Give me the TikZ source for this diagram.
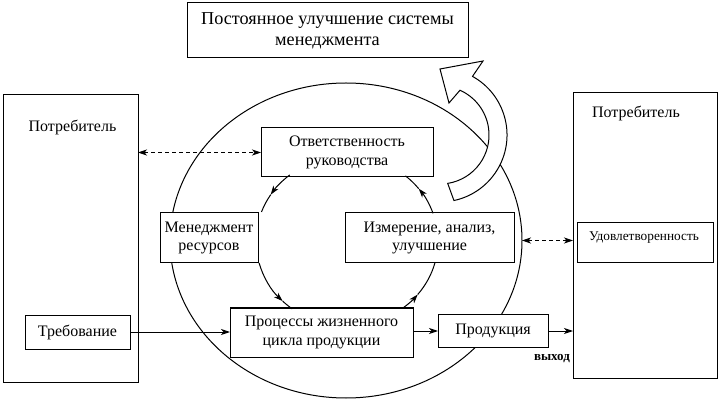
\documentclass[tikz,border=0pt]{standalone}
\usepackage{fontspec}
\setmainfont{Liberation Serif}
\usetikzlibrary{arrows.meta,shapes.geometric}
\begin{document}
\begin{tikzpicture}[x=1pt,y=1pt,
  line width=1pt,
  tip/.style={-{Stealth[length=9pt,width=6pt,inset=2.5pt]}},
  box/.style={draw,fill=white,rectangle,inner sep=0pt,outer sep=0pt,align=center,
    font=\fontsize{16}{18.5}\selectfont},
  plain/.style={inner sep=0pt,outer sep=0pt,align=center,font=\fontsize{16}{18.5}\selectfont},
  dashedarrow/.style={dash pattern=on 4pt off 3pt,{Stealth[length=9pt,width=6pt,inset=2.5pt]}-{Stealth[length=9pt,width=6pt,inset=2.5pt]}}
]
\useasboundingbox (0,0) rectangle (720,-403);

% outer cycle
\node[draw,ellipse,minimum width=352pt,minimum height=315pt,inner sep=0pt,outer sep=0pt] (ell) at (346,-240.5) {};

% big hollow arrow
\draw[fill=white] (440,-69) -- (483,-61) -- (472.5,-76.4)
  arc[start angle=61,end angle=-78,radius=67] -- (447.7,-183.4)
  arc[start angle=-81,end angle=66,radius=49] -- (449,-103) -- cycle;

% customer boxes
\node[box,minimum width=135pt,minimum height=287pt] (lcons) at (70.5,-238.5) {};
\node[plain] (lconst) at (72.5,-127) {Потребитель};
\node[box,minimum width=105pt,minimum height=34pt] (req) at (77.5,-332) {Требование};

\node[box,minimum width=144pt,minimum height=285pt] (rcons) at (645,-235.5) {};
\node[plain] (rconst) at (636,-113) {Потребитель};
\node[box,minimum width=136pt,minimum height=40pt] (sat) at (645,-242.5) {};
\node[plain,font=\fontsize{13.3}{15}\selectfont] (satt) at (644,-237.5) {Удовлетворенность};

% top box
\node[box,minimum width=281pt,minimum height=55pt,font=\fontsize{18.2}{21}\selectfont] (top) at (327.5,-30.5)
  {Постоянное улучшение системы\\менеджмента};

% inner process boxes
\node[box,minimum width=172pt,minimum height=49pt] (resp) at (347,-152.5) {Ответственность\\руководства};
\node[box,minimum width=98pt,minimum height=50pt] (res) at (209,-238) {Менеджмент\\ресурсов};
\node[box,minimum width=169pt,minimum height=50pt] (meas) at (429.5,-238) {Измерение, анализ,\\улучшение};
\node[box,minimum width=183pt,minimum height=49pt] (proc) at (321.5,-332.5) {Процессы жизненного\\цикла продукции};
\node[box,minimum width=110pt,minimum height=33pt] (prod) at (493,-331) {Продукция};
\node[plain,font=\bfseries\fontsize{13}{15}\selectfont] (out) at (552,-359) {выход};

% inner cycle
\coordinate (ic) at (347,-241);
\draw[tip] (ic) ++(129:91 and 85) arc[start angle=129,end angle=147,x radius=91,y radius=85];
\draw (ic) ++(147:91 and 85) arc[start angle=147,end angle=160,x radius=91,y radius=85];
\draw[tip] (ic) ++(195:91 and 85) arc[start angle=195,end angle=225,x radius=91,y radius=85];
\draw (ic) ++(225:91 and 85) arc[start angle=225,end angle=233,x radius=91,y radius=85];
\draw[tip] (ic) ++(-52:91 and 85) arc[start angle=-52,end angle=-39,x radius=91,y radius=85];
\draw (ic) ++(-39:91 and 85) arc[start angle=-39,end angle=-15,x radius=91,y radius=85];
\draw[tip] (ic) ++(19:91 and 85) arc[start angle=19,end angle=38,x radius=91,y radius=85];
\draw (ic) ++(38:91 and 85) arc[start angle=38,end angle=50,x radius=91,y radius=85];

% flows
\draw[tip] (req.east) -- (req.east -| proc.west);
\draw[tip] (proc.east |- prod.west) -- (prod.west);
\draw[tip] (prod.east) -- (prod.east -| rcons.west);
\draw[dashedarrow] (lcons.east |- resp.west) -- (resp.west);
\draw[dashedarrow] (ell.east) -- (ell.east -| rcons.west);
\end{tikzpicture}
\end{document}
